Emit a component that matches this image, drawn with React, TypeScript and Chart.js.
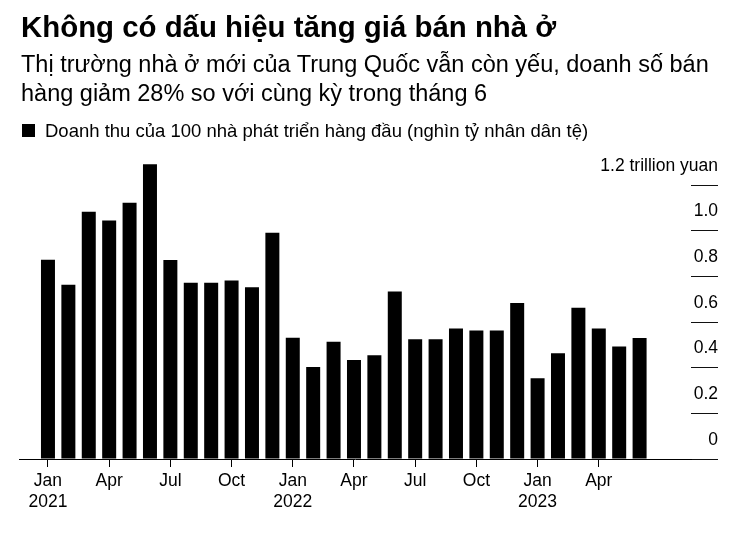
import React, { useEffect, useRef } from 'react';
import { Chart, registerables } from 'chart.js';

Chart.register(...registerables);

// ---- Data ----
const categories = [
  '2021-01', '2021-02', '2021-03', '2021-04', '2021-05', '2021-06',
  '2021-07', '2021-08', '2021-09', '2021-10', '2021-11', '2021-12',
  '2022-01', '2022-02', '2022-03', '2022-04', '2022-05', '2022-06',
  '2022-07', '2022-08', '2022-09', '2022-10', '2022-11', '2022-12',
  '2023-01', '2023-02', '2023-03', '2023-04', '2023-05', '2023-06',
];
const monthNames = ['Jan', 'Feb', 'Mar', 'Apr', 'May', 'Jun', 'Jul', 'Aug', 'Sep', 'Oct', 'Nov', 'Dec'];
const salesValues = [
  0.873, 0.763, 1.083, 1.044, 1.122, 1.291,
  0.872, 0.772, 0.772, 0.782, 0.752, 0.991,
  0.531, 0.403, 0.514, 0.434, 0.454, 0.734,
  0.524, 0.524, 0.572, 0.563, 0.563, 0.683,
  0.354, 0.463, 0.662, 0.572, 0.493, 0.530,
];
const yTickValues = [0, 0.2, 0.4, 0.6, 0.8, 1.0, 1.2];
const yUnit = 'trillion yuan';
const titleText = 'Không có dấu hiệu tăng giá bán nhà ở';
const subtitleLines = [
  'Thị trường nhà ở mới của Trung Quốc vẫn còn yếu, doanh số bán',
  'hàng giảm 28% so với cùng kỳ trong tháng 6',
];
const legendLabel = 'Doanh thu của 100 nhà phát triển hàng đầu (nghìn tỷ nhân dân tệ)';

const FONT = "'Liberation Sans', Arial, Helvetica, sans-serif";

export default function App() {
  const canvasRef = useRef<HTMLCanvasElement | null>(null);

  useEffect(() => {
    if (!canvasRef.current) return;
    const chart = new Chart(canvasRef.current, {
      type: 'bar',
      data: {
        datasets: [
          {
            label: legendLabel,
            data: salesValues.map((v, i) => ({ x: i, y: v })),
            backgroundColor: '#000000',
            borderWidth: 0,
            barPercentage: 0.686,
            categoryPercentage: 1,
            clip: false,
          } as any,
        ],
      },
      options: {
        responsive: false,
        animation: false,
        events: [],
        layout: { padding: { left: 19, right: 17, top: 185, bottom: 21 } },
        plugins: {
          legend: { display: false },
          title: { display: false },
          tooltip: { enabled: false },
        },
        scales: {
          x: {
            type: 'linear',
            position: 'bottom',
            min: -1.42,
            max: 31.52,
            offset: false,
            afterFit: (scale: any) => {
              scale.height = 60;
            },
            afterBuildTicks: (scale: any) => {
              scale.ticks = categories
                .map((_, i) => i)
                .filter((i) => i % 3 === 0)
                .map((i) => ({ value: i }));
            },
            grid: {
              display: true,
              offset: false,
              drawOnChartArea: false,
              drawTicks: true,
              tickLength: 8,
              color: '#000000',
              lineWidth: 1,
            },
            border: { display: true, color: '#000000', width: 1 },
            ticks: {
              autoSkip: false,
              maxRotation: 0,
              minRotation: 0,
              padding: 3,
              color: '#000000',
              font: { family: FONT, size: 17.5, lineHeight: 1.24 },
              callback: (value: any) => {
                const i = Math.round(Number(value));
                const cat = categories[i];
                if (!cat) return '';
                const [yr, mo] = cat.split('-');
                const m = monthNames[Number(mo) - 1];
                return m === 'Jan' ? [m, yr] : m;
              },
            },
          },
          y: {
            type: 'linear',
            position: 'right',
            min: 0,
            max: 1.2,
            afterFit: (scale: any) => {
              scale.width = 27;
            },
            afterBuildTicks: (scale: any) => {
              scale.ticks = yTickValues.map((v) => ({ value: v }));
            },
            grid: {
              display: true,
              drawOnChartArea: false,
              drawTicks: true,
              tickLength: 27,
              color: '#111111',
              lineWidth: 1,
            },
            border: { display: false },
            ticks: {
              mirror: true,
              crossAlign: 'near',
              labelOffset: -19,
              padding: 27,
              color: '#000000',
              font: { family: FONT, size: 17.5 },
              callback: (value: any) => {
                const n = Number(value);
                if (Math.abs(n - 1.2) < 1e-9) return `1.2 ${yUnit}`;
                if (Math.abs(n) < 1e-9) return '0';
                return n.toFixed(1);
              },
            },
          },
        },
      },
    });
    return () => chart.destroy();
  }, []);

  return (
    <div
      style={{
        position: 'absolute',
        left: 0,
        top: 0,
        width: 735,
        height: 540,
        background: '#ffffff',
        fontFamily: FONT,
        color: '#000000',
        overflow: 'hidden',
      }}
    >
      <canvas
        ref={canvasRef}
        width={735}
        height={540}
        style={{ position: 'absolute', left: 0, top: 0, width: 735, height: 540 }}
      />
      <div
        style={{
          position: 'absolute',
          left: 21,
          top: 12,
          fontSize: 29.4,
          lineHeight: 1,
          fontWeight: 700,
          whiteSpace: 'nowrap',
        }}
      >
        {titleText}
      </div>
      {subtitleLines.map((line, i) => (
        <div
          key={i}
          style={{
            position: 'absolute',
            left: 21,
            top: 50 + i * 29,
            fontSize: 23.5,
            lineHeight: '29px',
            whiteSpace: 'nowrap',
          }}
        >
          {line}
        </div>
      ))}
      <div
        style={{
          position: 'absolute',
          left: 22,
          top: 124,
          width: 13,
          height: 13,
          background: '#000000',
        }}
      />
      <div
        style={{
          position: 'absolute',
          left: 45,
          top: 122,
          fontSize: 18.5,
          lineHeight: 1,
          whiteSpace: 'nowrap',
        }}
      >
        {legendLabel}
      </div>
    </div>
  );
}
